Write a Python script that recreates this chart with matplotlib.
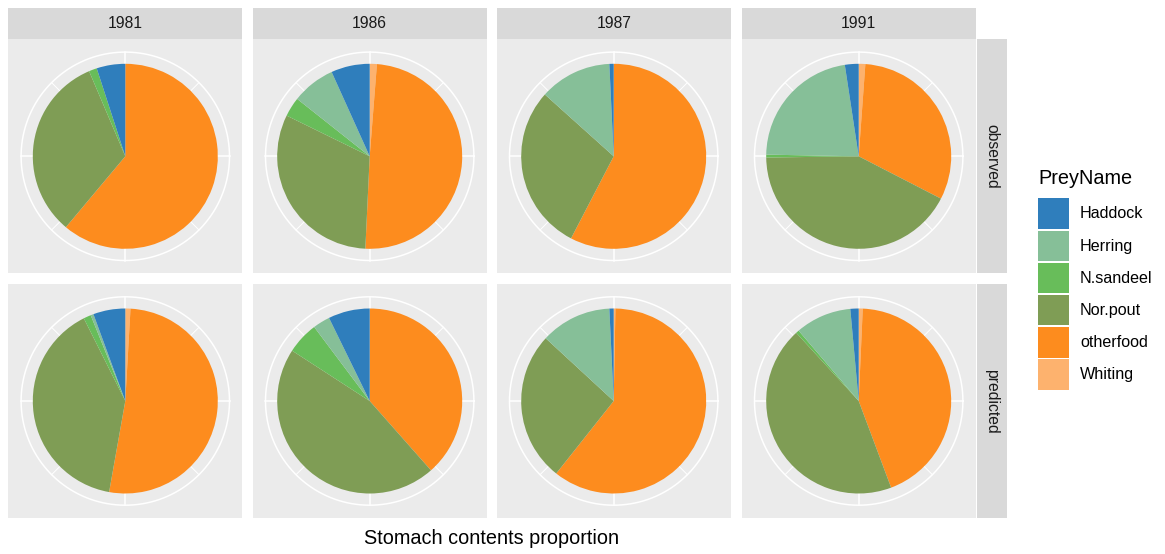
import numpy as np
import matplotlib.pyplot as plt
from matplotlib.patches import Rectangle

plt.rcParams['font.family'] = ['Liberation Sans', 'DejaVu Sans']

years = ["1981", "1986", "1987", "1991"]
rows = ["observed", "predicted"]
prey = ["Haddock", "Herring", "N.sandeel", "Nor.pout", "otherfood", "Whiting"]
prey_colors = ["#2F7EBC", "#86BF98", "#68BD5A", "#7F9D55", "#FD8C1E", "#FDB26E"]

# stomach content proportions (%), one list per year, in prey order
observed = [
    [5.0, 0.0, 1.4, 32.5, 61.1, 0.0],
    [6.75, 7.6, 3.4, 31.5, 49.5, 1.25],
    [0.75, 12.6, 0.0, 29.0, 57.6, 0.0],
    [2.4, 22.3, 0.5, 42.2, 31.4, 1.15],
]
predicted = [
    [5.6, 0.5, 1.3, 39.8, 51.9, 0.9],
    [7.25, 3.0, 5.6, 45.7, 38.5, 0.0],
    [0.75, 12.4, 0.0, 26.2, 60.4, 0.3],
    [1.45, 9.8, 0.55, 43.9, 43.6, 0.7],
]

W, H = 1165, 554
fig = plt.figure(figsize=(W / 100, H / 100), dpi=100)


def px_axes(x0, y0, w, h, **kw):
    # box given in pixels from the top-left corner
    return fig.add_axes([x0 / W, 1 - (y0 + h) / H, w / W, h / H], **kw)


col_left = [8.3, 252.7, 496.7, 741.7]
row_top = [39.3, 284.0]
pw = 234
R_PIE = 92.5
R_GRID = 104.2 / R_PIE
half = (pw / 2) / R_PIE

for r, data in enumerate([observed, predicted]):
    for c, vals in enumerate(data):
        ax = px_axes(col_left[c], row_top[r], pw, pw)
        # ggplot polar: clockwise from 12 o'clock, last level first
        ax.pie(vals[::-1], colors=prey_colors[::-1], startangle=90,
               counterclock=False, radius=1,
               wedgeprops=dict(linewidth=0))
        ax.set_frame_on(True)
        ax.set_facecolor("#EBEBEB")
        ax.set_xlim(-half, half)
        ax.set_ylim(-half, half)
        t = np.linspace(0, 2 * np.pi, 300)
        ax.plot(R_GRID * np.cos(t), R_GRID * np.sin(t), color="white", lw=1.1, zorder=0.5)
        for k in range(8):
            a = np.pi / 2 - k * np.pi / 4
            lw = 1.1 if k % 2 == 0 else 0.7
            ax.plot([np.cos(a), R_GRID * np.cos(a)], [np.sin(a), R_GRID * np.sin(a)],
                    color="white", lw=lw, zorder=0.5)
        ax.set_xticks([])
        ax.set_yticks([])
        for s in ax.spines.values():
            s.set_visible(False)

# top strips
for c, yr in enumerate(years):
    sa = px_axes(col_left[c], 8.3, pw, 31.0)
    sa.set_facecolor("#D9D9D9")
    sa.set_xticks([]); sa.set_yticks([])
    for s in sa.spines.values():
        s.set_visible(False)
    sa.text(0.5, 0.5, yr, ha="center", va="center", fontsize=11.3, color="#1A1A1A",
            transform=sa.transAxes)

# right strips
for r, name in enumerate(rows):
    sa = px_axes(976.5, row_top[r], 30.5, pw)
    sa.set_facecolor("#D9D9D9")
    sa.set_xticks([]); sa.set_yticks([])
    for s in sa.spines.values():
        s.set_visible(False)
    sa.text(0.5, 0.5, name, ha="center", va="center", rotation=-90, fontsize=11.3,
            color="#1A1A1A", transform=sa.transAxes)

fig.text(492 / W, 1 - 544 / H, "Stomach contents proportion", ha="center",
         va="baseline", fontsize=14.3)

# legend
fig.text(1038 / W, 1 - 179 / H, "PreyName", ha="left", va="center", fontsize=14.3)
for i, (name, col) in enumerate(zip(prey, prey_colors)):
    top = 198.3 + i * 32.2
    fig.patches.append(Rectangle((1038.3 / W, 1 - (top + 30.5) / H), 30.8 / W, 30.5 / H,
                                 facecolor=col, edgecolor="none",
                                 transform=fig.transFigure, figure=fig))
    fig.text(1080 / W, 1 - (top + 15.5) / H, name, ha="left", va="center", fontsize=11.6)

fig.savefig("out.png", dpi=100, facecolor="white")
